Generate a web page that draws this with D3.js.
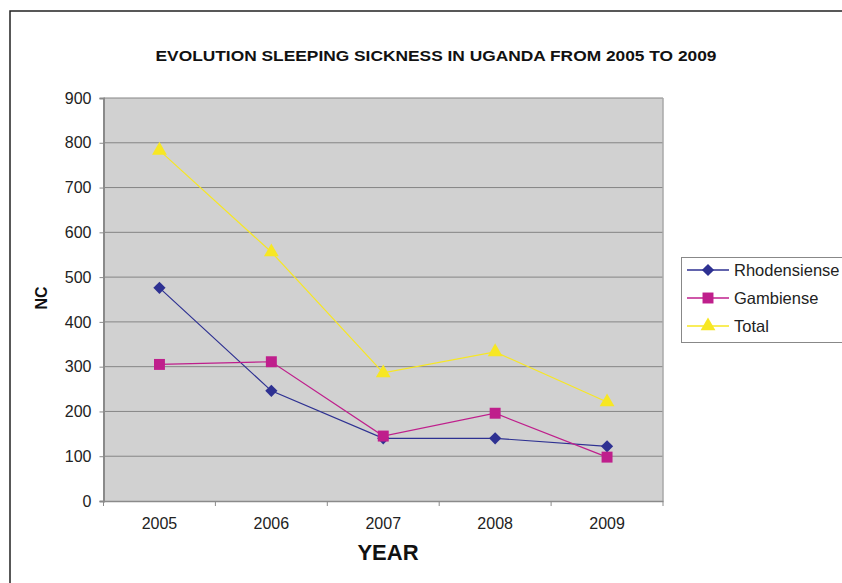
<!doctype html>
<html>
  <head>
    <meta charset="utf-8">
    <title>Evolution sleeping sickness in Uganda</title>
    <style>
      body { margin: 0; background: #fff; }
      text { font-family: "Liberation Sans", Arial, sans-serif; }
    </style>
    <script src="https://cdnjs.cloudflare.com/ajax/libs/d3/7.8.5/d3.min.js"></script>
  </head>
  <body>
    <div id="chart"></div>
    <script>
      const years = ['2005', '2006', '2007', '2008', '2009'];
      const rhodensiense = [476, 246, 140, 140, 122];
      const gambiense = [305, 311, 145, 196, 98];
      const total = [783, 556, 286, 333, 221];
      const yTicks = [0, 100, 200, 300, 400, 500, 600, 700, 800, 900];

      const series = [
        { name: 'Rhodensiense', values: rhodensiense, color: '#2e3192', symbol: d3.symbolDiamond2, size: 95 },
        { name: 'Gambiense', values: gambiense, color: '#bf1f8c', symbol: d3.symbolSquare, size: 120 },
        { name: 'Total', values: total, color: '#f7e723', symbol: d3.symbolTriangle, size: 95 }
      ];

      const svg = d3.select('#chart').append('svg')
        .attr('width', 842)
        .attr('height', 583)
        .style('display', 'block');

      // outer frame
      svg.append('path')
        .attr('d', 'M10,583V11H842')
        .attr('fill', 'none')
        .attr('stroke', '#222')
        .attr('stroke-width', 1.5);

      const plotL = 103.5, plotR = 663, plotT = 98, plotB = 501;

      const x = d3.scaleBand().domain(years).range([plotL, plotR]);
      const y = d3.scaleLinear().domain([0, 900]).range([plotB, plotT]);

      svg.append('rect')
        .attr('x', plotL).attr('y', plotT)
        .attr('width', plotR - plotL).attr('height', plotB - plotT)
        .attr('fill', '#d1d1d1');

      // gridlines
      svg.append('g')
        .selectAll('line')
        .data(yTicks.filter(d => d > 0))
        .enter().append('line')
        .attr('x1', plotL).attr('x2', plotR)
        .attr('y1', d => y(d)).attr('y2', d => y(d))
        .attr('stroke', '#858585')
        .attr('stroke-width', 1);

      svg.append('line')
        .attr('x1', plotR).attr('x2', plotR)
        .attr('y1', plotT).attr('y2', plotB)
        .attr('stroke', '#a8a8a8').attr('stroke-width', 1.5);

      const yAxis = svg.append('g')
        .attr('transform', `translate(${plotL},0)`)
        .call(d3.axisLeft(y).tickValues(yTicks).tickSize(4).tickPadding(8));
      yAxis.select('.domain').attr('stroke', '#8a8a8a').attr('stroke-width', 2);
      yAxis.selectAll('.tick line').attr('stroke', '#8a8a8a');
      yAxis.selectAll('text')
        .attr('font-size', 16).attr('fill', '#222')
        .attr('font-family', '"Liberation Sans", Arial, sans-serif');

      const xAxis = svg.append('g')
        .attr('transform', `translate(0,${plotB})`)
        .call(d3.axisBottom(x).tickSize(0).tickPadding(17));
      xAxis.select('.domain').attr('stroke', '#8a8a8a').attr('stroke-width', 1.5);
      xAxis.selectAll('text')
        .attr('font-size', 16).attr('fill', '#222')
        .attr('font-family', '"Liberation Sans", Arial, sans-serif');

      // category boundary ticks
      const bounds = years.map(d => x(d)).concat([x(years[years.length - 1]) + x.bandwidth()]);
      svg.append('g')
        .selectAll('line')
        .data(bounds)
        .enter().append('line')
        .attr('x1', d => d).attr('x2', d => d)
        .attr('y1', plotB).attr('y2', plotB + 5)
        .attr('stroke', '#8a8a8a');

      const line = d3.line()
        .x((d, i) => x(years[i]) + x.bandwidth() / 2)
        .y(d => y(d));

      series.forEach(s => {
        svg.append('path')
          .datum(s.values)
          .attr('d', line)
          .attr('fill', 'none')
          .attr('stroke', s.color)
          .attr('stroke-width', 1.2);
        svg.append('g')
          .selectAll('path')
          .data(s.values)
          .enter().append('path')
          .attr('d', d3.symbol().type(s.symbol).size(s.size))
          .attr('transform', (d, i) => `translate(${x(years[i]) + x.bandwidth() / 2},${y(d)})`)
          .attr('fill', s.color);
      });

      // titles
      svg.append('text')
        .attr('x', 436).attr('y', 61)
        .attr('text-anchor', 'middle')
        .attr('font-size', 15.5).attr('font-weight', 'bold')
        .attr('fill', '#111')
        .attr('textLength', 561).attr('lengthAdjust', 'spacingAndGlyphs')
        .text('EVOLUTION SLEEPING SICKNESS IN UGANDA FROM 2005 TO 2009');

      svg.append('text')
        .attr('x', 388).attr('y', 560)
        .attr('text-anchor', 'middle')
        .attr('font-size', 22).attr('font-weight', 'bold')
        .attr('fill', '#111')
        .text('YEAR');

      svg.append('text')
        .attr('transform', 'translate(47,298) rotate(-90)')
        .attr('text-anchor', 'middle')
        .attr('font-size', 16).attr('font-weight', 'bold')
        .attr('fill', '#111')
        .text('NC');

      // legend
      const legend = svg.append('g');
      legend.append('rect')
        .attr('x', 681.5).attr('y', 257.5)
        .attr('width', 175).attr('height', 85)
        .attr('fill', '#fff')
        .attr('stroke', '#888');

      const items = legend.selectAll('g.item')
        .data(series)
        .enter().append('g')
        .attr('transform', (d, i) => `translate(0,${270 + i * 28})`);
      items.append('line')
        .attr('x1', 687).attr('x2', 729)
        .attr('stroke', d => d.color).attr('stroke-width', 1.5);
      items.append('path')
        .attr('d', d => d3.symbol().type(d.symbol).size(d.size)())
        .attr('transform', 'translate(708,0)')
        .attr('fill', d => d.color);
      items.append('text')
        .attr('x', 734).attr('y', 6)
        .attr('font-size', 16.5).attr('fill', '#222')
        .text(d => d.name);
    </script>
  </body>
</html>
